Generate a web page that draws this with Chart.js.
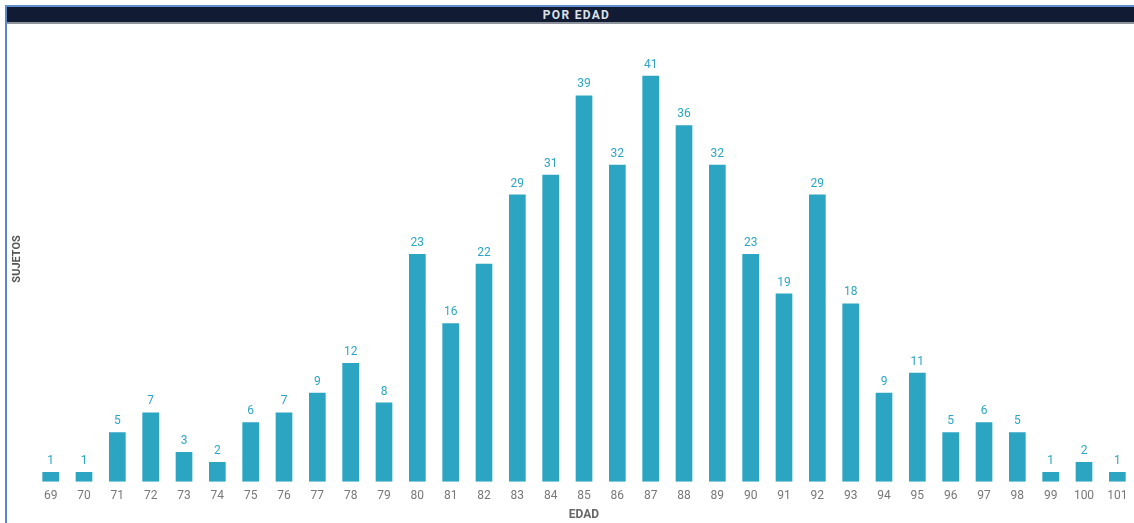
<!DOCTYPE html>
<html>
<head>
<meta charset="utf-8">
<script src="https://cdn.jsdelivr.net/npm/chart.js@4.4.0/dist/chart.umd.min.js"></script>
<style>
  html, body { margin: 0; padding: 0; background: #fff; }
  #wrap { position: relative; width: 1134px; height: 523px; overflow: hidden; font-family: Roboto, "Open Sans", sans-serif; }
  #frame-left { position: absolute; left: 5px; top: 5px; width: 2px; height: 518px; background: #5a88c6; }
  #frame-top { position: absolute; left: 5px; top: 5px; width: 1129px; height: 2px; background: #5f8fcd; }
  #titlebar { position: absolute; left: 7px; top: 7px; width: 1127px; height: 15px; background: #111b33;
              border-bottom: 2px solid #8e939c; color: #dde1e8; font-weight: bold; font-size: 12px;
              line-height: 16px; text-align: center; letter-spacing: 1.3px; }
  #titlebar span { position: relative; left: 6px; }
  canvas { position: absolute; left: 0; top: 0; }
</style>
</head>
<body>
<div id="wrap">
  <canvas id="chart" width="1134" height="523"></canvas>
  <div id="frame-left"></div>
  <div id="frame-top"></div>
  <div id="titlebar"><span>POR EDAD</span></div>
</div>
<script>
// Ages (categories) and number of subjects per age
const ages = ['69','70','71','72','73','74','75','76','77','78','79','80','81','82','83','84','85',
              '86','87','88','89','90','91','92','93','94','95','96','97','98','99','100','101'];
const subjects = [1,1,5,7,3,2,6,7,9,12,8,23,16,22,29,31,39,32,41,36,32,23,19,29,18,9,11,5,6,5,1,2,1];

const barColor = '#2ca5c3';
const fontFamily = 'Roboto, "Open Sans", sans-serif';

// Draws each bar's value just above it
const valueLabels = {
  id: 'valueLabels',
  afterDatasetsDraw(chart) {
    const ctx = chart.ctx;
    const meta = chart.getDatasetMeta(0);
    ctx.save();
    ctx.fillStyle = barColor;
    ctx.font = '12px ' + fontFamily;
    ctx.textAlign = 'center';
    ctx.textBaseline = 'bottom';
    meta.data.forEach((bar, i) => {
      ctx.fillText(String(chart.data.datasets[0].data[i]), bar.x, bar.y - 5);
    });
    ctx.restore();
  }
};

new Chart(document.getElementById('chart'), {
  type: 'bar',
  data: {
    labels: ages,
    datasets: [{
      data: subjects,
      backgroundColor: barColor,
      categoryPercentage: 1,
      barPercentage: 0.5
    }]
  },
  options: {
    responsive: false,
    animation: false,
    layout: { padding: { top: 36, right: 0, left: 0, bottom: 2 } },
    plugins: { legend: { display: false }, tooltip: { enabled: false } },
    scales: {
      x: {
        grid: { display: false },
        border: { display: false },
        ticks: { color: '#777', font: { size: 12, family: fontFamily, lineHeight: 1.1 }, padding: 0, maxRotation: 0, autoSkip: false },
        title: { display: true, text: 'EDAD', color: '#666', font: { size: 12, weight: 'bold', family: fontFamily, lineHeight: 1.0 }, padding: { top: 6, bottom: 0 } }
      },
      y: {
        min: 0,
        max: 45,
        grid: { display: false },
        border: { display: false },
        ticks: { display: false },
        title: { display: true, text: 'SUJETOS', color: '#555', font: { size: 11, weight: 'bold', family: fontFamily }, padding: { top: 11, bottom: 0 } },
        afterFit(scale) { scale.width = 34; }
      }
    }
  },
  plugins: [valueLabels]
});
</script>
</body>
</html>
